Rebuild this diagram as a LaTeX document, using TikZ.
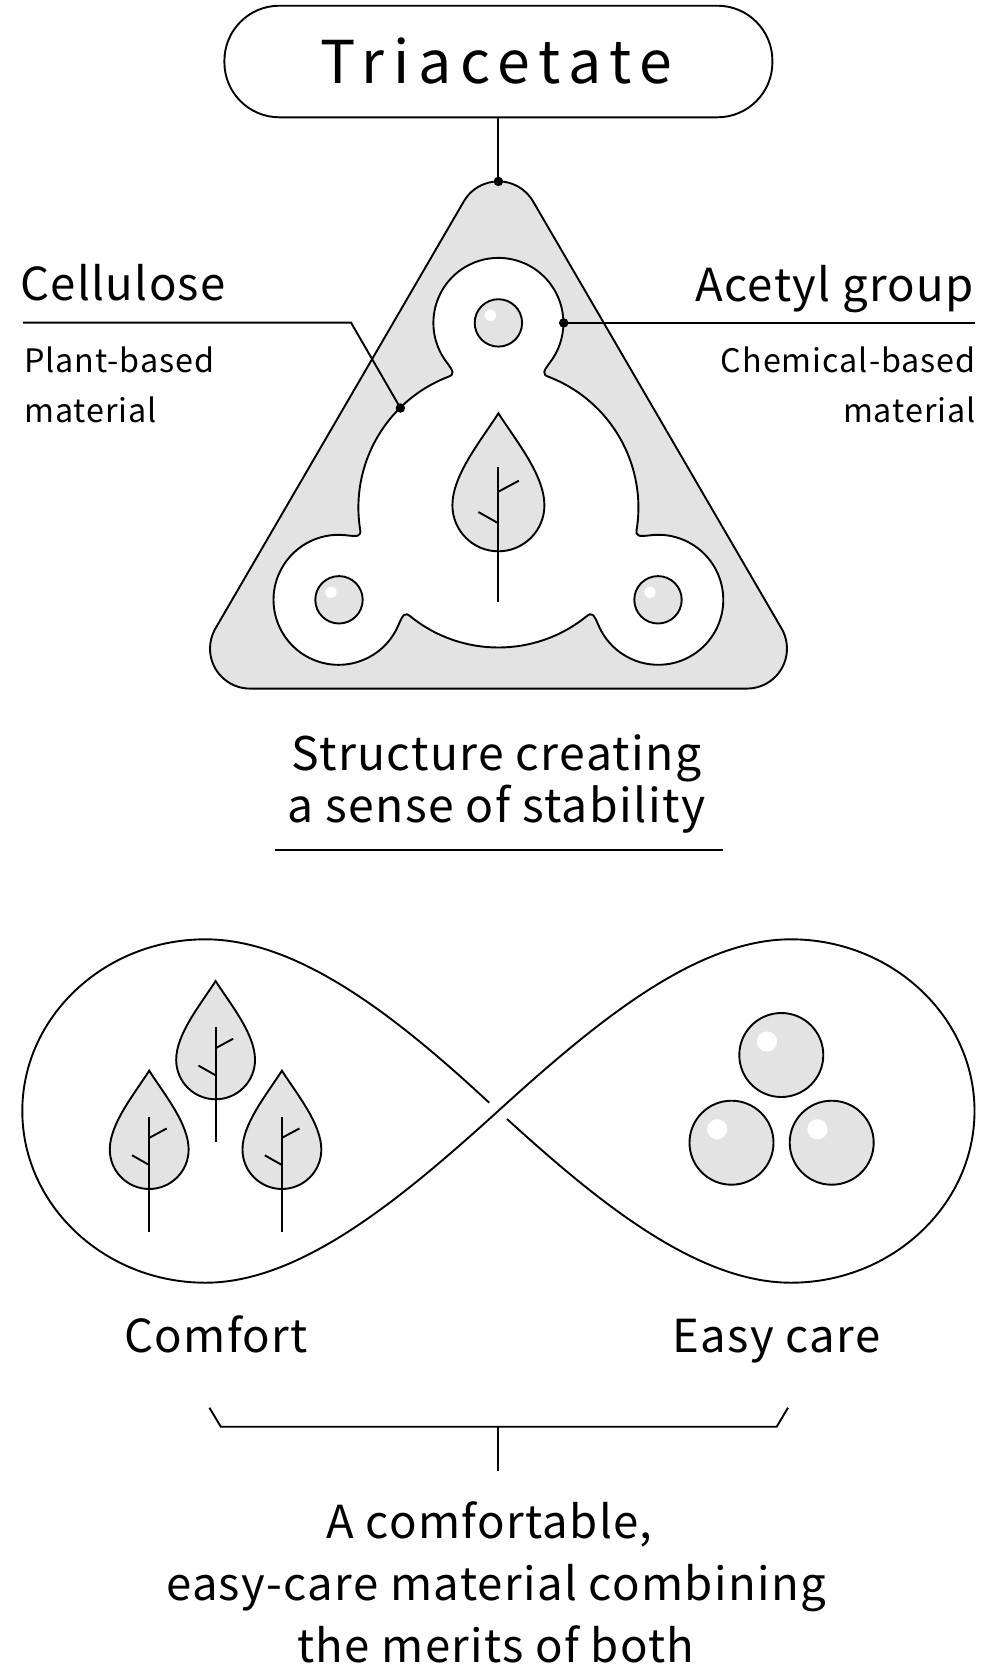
\documentclass[tikz,border=0pt]{standalone}
\usepackage{fontspec}
\usepackage{xcolor}
\usetikzlibrary{calc}
\setmainfont[LetterSpace=3]{Noto Sans CJK JP}
\newfontfamily\pilltitlefont[LetterSpace=15]{Noto Sans CJK JP}
\definecolor{tonegray}{HTML}{E3E3E3}
\tikzset{
    inkline/.style={line width=1.9pt,black},
    dotmark/.style={circle,fill=black,inner sep=0pt,minimum size=9.5pt},
    pillbox/.style={draw,line width=1.9pt,rounded corners=55pt,minimum width=548pt,minimum height=111.6pt,inner sep=0pt},
    biglabel/.style={font=\fontsize{45.5}{50}\selectfont,inner sep=0pt},
    midlabel/.style={font=\fontsize{46.3}{50}\selectfont,inner sep=0pt},
    smalllabel/.style={font=\fontsize{32.3}{36}\selectfont,inner sep=0pt}
}
\begin{document}
\begin{tikzpicture}[x=1pt,y=-1pt]
\useasboundingbox (0,0) rectangle (1000,1676);

\draw[inkline,fill=tonegray] (463.8,201.4) arc[start angle=-150,end angle=-30,radius=40]
    -- (781.6,628.6) arc[start angle=-30,end angle=90,radius=40]
    -- (250,688.6) arc[start angle=90,end angle=210,radius=40] -- cycle;

\coordinate (cent) at (498.4,507.5);
\draw[inkline,fill=white] ($(cent)+(-90:184.6)+(-217:65)$)
    \foreach \a in {0,120,240} {
        arc[start angle=\a-217,end angle=\a+37,radius=65]
        .. controls +(\a+127:12) and ($(cent)+(\a-69:140)+(\a+201:7)$) .. ($(cent)+(\a-69:140)$)
        arc[start angle=\a-69,end angle=\a+9,radius=140]
        .. controls +(\a+99:7) and ($(cent)+(\a+30:184.6)+(\a-217+120:65)+(\a+53+120:12)$) .. ($(cent)+(\a+30:184.6)+(\a-217+120:65)$)
    } -- cycle;

\foreach \x/\y/\s in {498.4/413.3/1,215.6/981/0.857,149.2/1070.7/0.857,281.9/1070.7/0.857} {
    \begin{scope}[shift={(\x,\y)},scale=\s]
        \draw[inkline,fill=tonegray] (0,0) .. controls (-18,28) and (-46,62) .. (-46,92)
            arc[start angle=180,end angle=0,radius=46]
            .. controls (46,62) and (18,28) .. (0,0) -- cycle;
        \draw[inkline] (0,54) -- (0,188.4);
        \draw[inkline] (0,78.4) -- (20.4,67.4);
        \draw[inkline] (0,110) -- (-20,98.7);
    \end{scope}
}

\foreach \x/\y/\r in {498.4/322.9/23.7,339/599.8/23.7,658/599.8/23.7,781.3/1055/42,731.5/1142.7/42,831.7/1142.7/42} {
    \draw[inkline,fill=tonegray] (\x,\y) circle[radius=\r];
    \fill[white] (\x-0.34*\r,\y-0.32*\r) circle[radius=0.24*\r];
}

\node[pillbox] (title) at (498.4,61.5) {\pilltitlefont\fontsize{59}{64}\selectfont\kern-4pt Triacetate};
\node[dotmark] (topdot) at (498.4,181.4) {};
\draw[inkline] (title.south) -- (topdot.center);

\node[dotmark] (celdot) at (400.4,408) {};
\node[dotmark] (acedot) at (563.7,322.9) {};
\coordinate (celstart) at (23,322.6);
\coordinate (celbend) at (351,322.6);
\coordinate (aceend) at (974.5,322.9);
\draw[inkline] (celstart) -- (celbend) -- (celdot.center);
\draw[inkline] (acedot.center) -- (aceend);

\node[biglabel,anchor=base west] (cellulose) at (20,300.7) {Cellulose};
\node[smalllabel,anchor=base west] (plant) at (24,372.3) {Plant-based};
\node[smalllabel,anchor=base west] (plantmat) at (24,422.7) {material};
\node[biglabel,anchor=base east] (acetyl) at (974,301) {Acetyl group};
\node[smalllabel,anchor=base east] (chem) at (976,372.3) {Chemical-based};
\node[smalllabel,anchor=base east] (chemmat) at (976,422.7) {material};

\node[midlabel,anchor=base] (structa) at (496.5,770) {Structure creating};
\node[midlabel,anchor=base] (structb) at (496.5,822) {a sense of stability};
\coordinate (rulel) at (274.6,850);
\coordinate (ruler) at (723.3,850);
\draw[inkline] (rulel) -- (ruler);

\draw[inkline] (489.2,1102.7) .. controls (400,1020) and (300,939.3) .. (205.4,939.3)
    .. controls (104.7,939.3) and (22.3,1016.6) .. (22.3,1111)
    .. controls (22.3,1205.4) and (104.7,1282.7) .. (205.4,1282.7)
    .. controls (300,1282.7) and (400,1200) .. (498.15,1111)
    .. controls (596,1022) and (696,939.3) .. (790.9,939.3)
    .. controls (891.6,939.3) and (974.5,1016.6) .. (974.5,1111)
    .. controls (974.5,1205.4) and (891.6,1282.7) .. (790.9,1282.7)
    .. controls (696,1282.7) and (596,1200) .. (507,1119);

\node[biglabel,anchor=base] (comfort) at (216,1352.6) {Comfort};
\node[biglabel,anchor=base] (easycare) at (776.7,1352.6) {Easy care};

\coordinate (brktl) at (209.4,1407.7);
\coordinate (brkbl) at (220.8,1426.7);
\coordinate (brkbr) at (776.7,1426.7);
\coordinate (brktr) at (788,1407.7);
\coordinate (brkmid) at (498.3,1426.7);
\coordinate (brkstem) at (498.3,1470.7);
\draw[inkline] (brktl) -- (brkbl) -- (brkbr) -- (brktr);
\draw[inkline] (brkmid) -- (brkstem);

\foreach \name/\x/\y/\txt in {meritsa/489.5/1538.5/{A comfortable,},meritsb/496/1600/{easy-care material combining},meritsc/496/1662.5/{the merits of both}} {
    \node[biglabel,anchor=base] (\name) at (\x,\y) {\txt};
}
\end{tikzpicture}
\end{document}
